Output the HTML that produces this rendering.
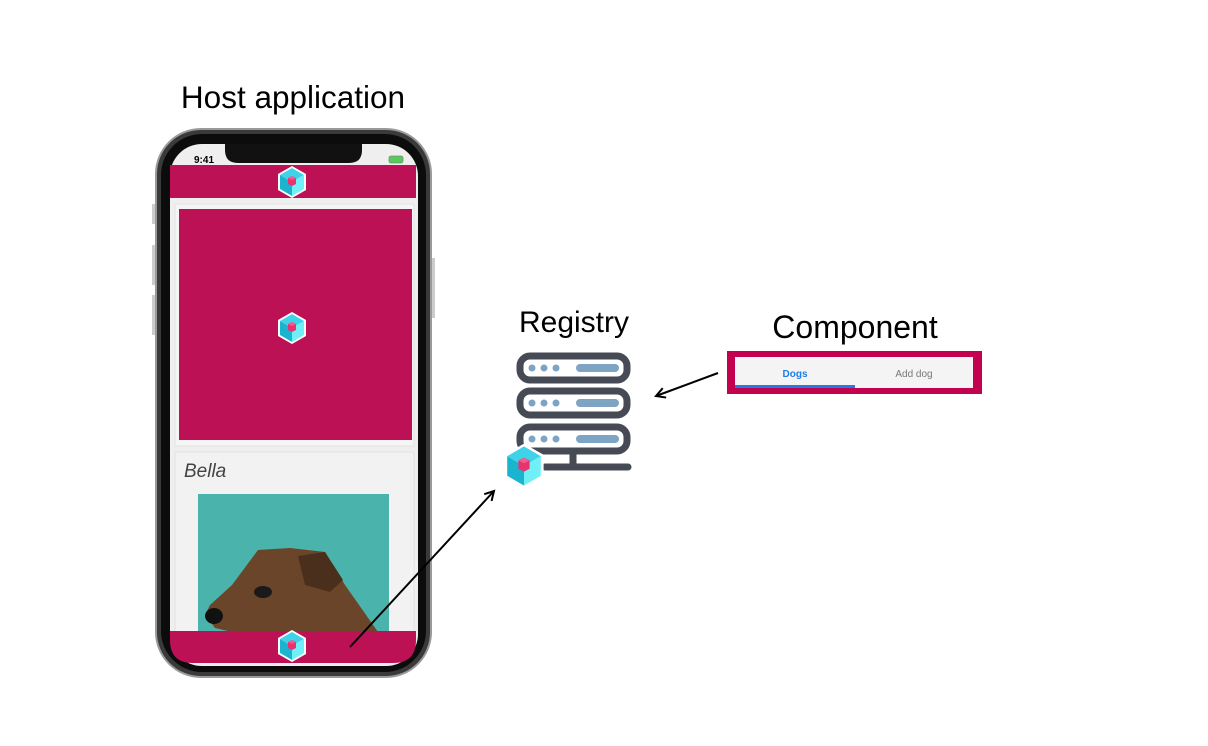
<!DOCTYPE html>
<html><head><meta charset="utf-8"><style>
html,body{margin:0;padding:0;background:#fff;}
svg{display:block;}
text{font-family:"Liberation Sans",sans-serif;}
</style></head><body>
<svg width="1208" height="746" viewBox="0 0 1208 746" xmlns="http://www.w3.org/2000/svg">
<defs>
<g id="cube">
  <polygon points="0,-16 14,-8 14,8 0,16 -14,8 -14,-8" fill="#fff"/>
  <polygon points="0,-14 12,-7 0,0 -12,-7" fill="#3fd3ea"/>
  <polygon points="-12,-7 0,0 0,14 -12,7" fill="#1bb4cf"/>
  <polygon points="12,-7 0,0 0,14 12,7" fill="#6ff0f7"/>
  <polygon points="0,-6 4,-4 4,2 0,4 -4,2 -4,-4" fill="#e8336e"/>
  <polygon points="0,-6 4,-4 0,-2 -4,-4" fill="#f25b8d"/>
</g>
<marker id="ah" markerWidth="12" markerHeight="12" refX="10" refY="6" orient="auto" markerUnits="userSpaceOnUse">
  <path d="M1,1 L10,6 L1,11" fill="none" stroke="#000" stroke-width="2"/>
</marker>
</defs>

<text x="293" y="108" font-size="31.5" text-anchor="middle" fill="#000">Host application</text>
<text x="574" y="332" font-size="30" text-anchor="middle" fill="#000">Registry</text>
<text x="855" y="338" font-size="32" text-anchor="middle" fill="#000">Component</text>

<!-- phone -->
<rect x="152" y="204" width="5" height="20" fill="#ccc"/>
<rect x="152" y="245" width="5" height="40" fill="#ccc"/>
<rect x="152" y="295" width="5" height="40" fill="#ccc"/>
<rect x="430" y="258" width="5" height="60" fill="#ccc"/>
<rect x="155" y="128" width="277" height="550" rx="46" fill="#9a9a9a"/>
<rect x="157" y="130" width="273" height="546" rx="44" fill="#3a3a3a"/>
<rect x="161" y="134" width="265" height="538" rx="41" fill="#0c0c0c"/>
<rect x="170" y="144" width="248" height="522" rx="32" fill="#efefef"/>
<path d="M225,144 L362,144 L362,150 Q362,163 349,163 L238,163 Q225,163 225,150 Z" fill="#111"/>
<text x="194" y="163" font-size="10" fill="#000" font-weight="bold">9:41</text>
<rect x="389" y="156" width="14" height="7" rx="2" fill="#5c5" stroke="#888" stroke-width="0.8"/>
<rect x="170" y="165" width="246" height="33" fill="#bd1156"/>
<use href="#cube" x="292" y="182"/>
<rect x="175" y="204" width="239" height="242" fill="#f5f5f5" stroke="#e2e2e2"/>
<rect x="179" y="209" width="233" height="231" fill="#bd1156"/>
<use href="#cube" x="292" y="328"/>
<rect x="175" y="452" width="239" height="190" fill="#f2f2f2" stroke="#e2e2e2"/>
<text x="184" y="477" font-size="19" font-style="italic" fill="#444">Bella</text>
<rect x="198" y="494" width="191" height="140" fill="#4ab3ab"/>
<path d="M258,550 L290,548 L325,552 L345,585 L378,632 L232,632 L215,628 L205,615 L210,605 L232,585 Z" fill="#6b4529"/>
<path d="M298,556 L325,552 L343,580 L330,592 L305,585 Z" fill="#4a2f1c"/>
<ellipse cx="263" cy="592" rx="9" ry="6" fill="#1a1a1a"/>
<ellipse cx="214" cy="616" rx="9" ry="8" fill="#111"/>
<path d="M170,631 L416,631 L416,640 Q416,663 393,663 L193,663 Q170,663 170,640 Z" fill="#bd1156"/>
<use href="#cube" x="292" y="646"/>

<!-- arrow phone->registry -->
<line x1="350" y1="647" x2="494" y2="491" stroke="#000" stroke-width="2" marker-end="url(#ah)"/>

<!-- server -->
<g fill="none" stroke="#464a54" stroke-width="7">
<rect x="520" y="356" width="107" height="24" rx="10"/>
<rect x="520" y="391" width="107" height="24" rx="10"/>
<rect x="520" y="427" width="107" height="24" rx="10"/>
<line x1="573" y1="452" x2="573" y2="467"/>
<line x1="545" y1="467" x2="628" y2="467" stroke-linecap="round"/>
</g>
<g fill="#7ea4c4">
<circle cx="532" cy="368" r="3.5"/><circle cx="544" cy="368" r="3.5"/><circle cx="556" cy="368" r="3.5"/>
<rect x="576" y="364" width="43" height="8" rx="4"/>
<circle cx="532" cy="403" r="3.5"/><circle cx="544" cy="403" r="3.5"/><circle cx="556" cy="403" r="3.5"/>
<rect x="576" y="399" width="43" height="8" rx="4"/>
<circle cx="532" cy="439" r="3.5"/><circle cx="544" cy="439" r="3.5"/><circle cx="556" cy="439" r="3.5"/>
<rect x="576" y="435" width="43" height="8" rx="4"/>
</g>
<g transform="translate(524,466) scale(1.4)"><use href="#cube"/></g>

<!-- arrow component->registry -->
<line x1="718" y1="373" x2="656" y2="396" stroke="#000" stroke-width="2" marker-end="url(#ah)"/>

<!-- component -->
<rect x="727" y="351" width="255" height="43" fill="#c2024f"/>
<rect x="735" y="357" width="238" height="31" fill="#f4f4f4"/>
<rect x="735" y="385" width="120" height="3" fill="#1e7de6"/>
<text x="795" y="377" font-size="10" font-weight="bold" fill="#1e7de6" text-anchor="middle">Dogs</text>
<text x="914" y="377" font-size="10" fill="#777" text-anchor="middle">Add dog</text>
</svg>
</body></html>
